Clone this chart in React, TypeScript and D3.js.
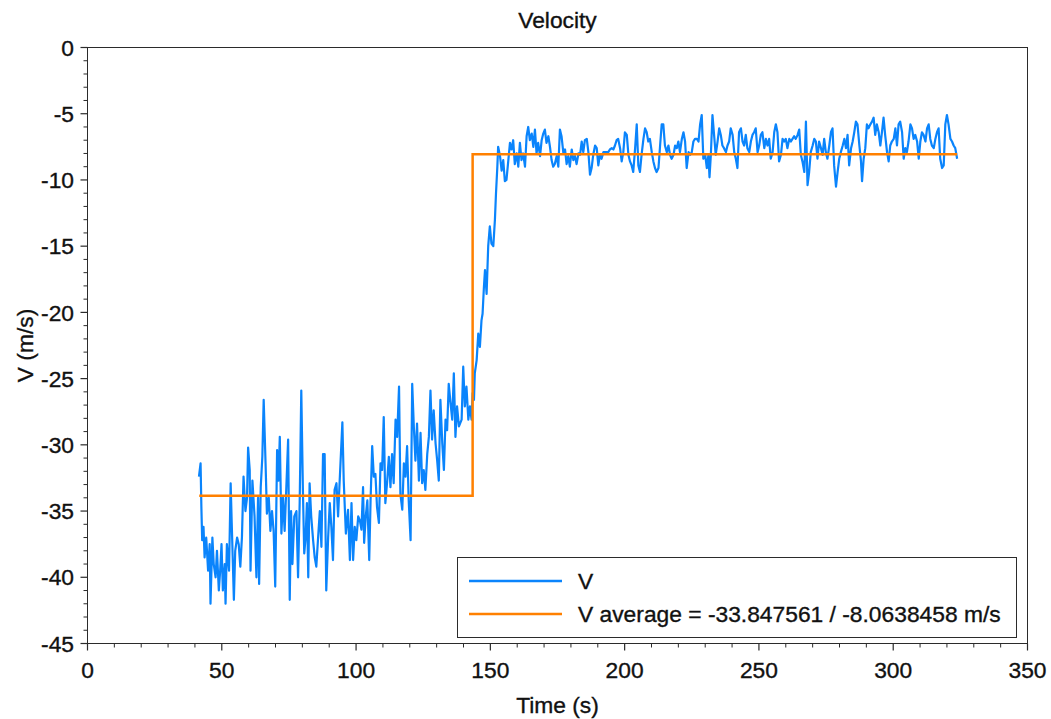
import React from "react";
import * as d3 from "d3";

// ---------- data (time s, velocity m/s) ----------
const slowPhase: [number, number][] = [
  [41.5, -32.4], [42.1, -31.4], [42.4, -34.7], [42.7, -37.2], [43.2, -36.2], [43.6, -38.5], [44.2, -37.0], [44.9, -39.5],
  [45.5, -37.5], [45.8, -42.0], [46.5, -37.0], [47.0, -39.0], [47.7, -40.0], [48.2, -38.0], [48.9, -41.0], [49.4, -39.5],
  [49.9, -37.5], [50.4, -41.0], [51.1, -39.0], [51.4, -42.0], [51.9, -37.5], [52.7, -39.5], [53.3, -32.9], [53.7, -35.9],
  [54.2, -39.5], [54.5, -41.7], [55.0, -38.0], [55.7, -37.0], [56.3, -37.5], [56.9, -39.2], [57.5, -37.0], [58.1, -32.4],
  [58.8, -35.0], [59.4, -34.0], [59.8, -30.2], [60.4, -31.9], [60.7, -39.5], [61.4, -32.7], [62.2, -35.4], [62.9, -40.0],
  [63.5, -34.0], [63.9, -40.5], [64.5, -33.2], [65.1, -30.9], [65.6, -26.6], [66.3, -31.4], [66.8, -35.2], [67.5, -34.0],
  [68.1, -36.5], [68.7, -35.0], [69.3, -36.5], [69.9, -40.7], [70.6, -30.4], [71.1, -32.7], [71.6, -29.4], [72.2, -36.7],
  [72.8, -34.0], [73.4, -36.5], [74.0, -33.4], [74.7, -29.6], [75.3, -41.7], [75.8, -35.0], [76.3, -39.0], [77.0, -35.4],
  [77.8, -35.0], [78.4, -40.0], [79.0, -34.4], [79.6, -25.9], [80.2, -33.4], [80.7, -38.2], [81.2, -37.0], [81.7, -34.4],
  [82.2, -40.0], [82.7, -32.9], [83.3, -35.4], [84.0, -37.2], [84.6, -38.5], [85.2, -39.2], [85.8, -37.2], [86.5, -35.0],
  [87.1, -37.7], [87.7, -30.7], [88.3, -30.7], [88.9, -41.0], [89.6, -37.0], [90.2, -34.4], [90.8, -36.2], [91.4, -38.7],
  [92.0, -33.4], [92.7, -32.9], [93.3, -35.4], [93.9, -32.7],
];

const risingPhase: [number, number][] = [
  [94.9, -28.3], [95.4, -32.7], [96.2, -36.7], [97.0, -34.9], [97.7, -38.7], [98.3, -34.4], [98.9, -38.7], [99.5, -36.2],
  [100.1, -37.2], [100.8, -35.4], [101.4, -35.7], [102.0, -36.4], [102.6, -33.2], [103.0, -37.4], [103.6, -35.4], [104.2, -34.2],
  [104.9, -38.7], [105.4, -34.2], [106.0, -30.1], [106.6, -32.4], [107.2, -32.2], [107.8, -34.7], [108.5, -35.9], [109.1, -31.4],
  [109.7, -31.9], [110.3, -27.9], [110.9, -34.4], [111.6, -32.7], [112.2, -30.9], [112.8, -33.2], [113.4, -30.7], [114.0, -32.9],
  [114.7, -28.1], [115.3, -29.4], [116.0, -25.6], [116.5, -33.7], [117.2, -34.9], [117.8, -31.4], [118.4, -32.4], [119.0, -30.1],
  [119.6, -34.2], [120.3, -37.2], [120.9, -25.4], [121.5, -28.6], [122.1, -31.2], [122.7, -28.4], [123.4, -32.7], [124.0, -29.1],
  [124.6, -32.9], [125.2, -31.9], [125.8, -33.4], [126.5, -30.7], [127.1, -29.4], [127.7, -25.9], [128.3, -29.6], [128.9, -27.4],
  [129.6, -29.9], [130.2, -31.2], [130.8, -32.7], [131.4, -26.6], [132.1, -29.9], [132.7, -31.9], [133.3, -28.1], [133.9, -28.9],
  [134.5, -25.4], [135.2, -26.9], [135.8, -28.1], [136.4, -24.6], [137.0, -29.4], [137.6, -27.1], [138.3, -28.6],
];

const jumpPhase: [number, number][] = [
  [139.3, -28.1], [139.9, -24.1], [140.5, -27.1], [141.1, -25.6], [141.8, -28.1], [142.4, -27.1], [143.0, -28.1], [143.4, -26.1],
  [143.9, -26.6], [144.2, -24.6], [144.9, -23.6], [145.5, -21.6], [146.1, -22.6], [146.7, -20.6], [147.1, -20.1], [147.6, -18.1],
  [148.0, -16.8], [148.6, -18.6], [149.2, -15.0], [149.8, -13.5], [150.4, -14.8], [151.1, -15.0], [151.7, -13.0], [152.1, -11.0],
  [152.6, -9.0], [152.9, -7.5], [153.6, -8.2], [154.2, -9.3], [154.8, -8.5], [155.4, -10.1], [156.0, -10.0], [156.7, -8.5],
  [157.3, -7.2], [157.9, -7.7], [158.5, -7.0], [159.1, -8.8], [159.8, -8.0], [160.4, -9.0], [161.0, -7.2], [161.6, -8.5],
  [162.2, -8.0], [162.9, -9.0], [163.5, -6.7], [164.1, -6.0], [164.7, -7.0], [165.4, -6.5], [166.0, -7.5], [166.6, -6.2],
  [167.2, -8.0], [167.8, -7.2], [168.5, -8.2], [169.1, -7.0], [169.7, -6.5], [170.3, -6.2], [170.9, -7.2], [171.6, -6.7],
  [172.2, -7.5], [172.8, -8.5], [173.4, -9.0], [174.0, -8.8], [174.7, -8.2], [175.3, -9.0], [175.9, -6.2], [176.5, -6.7],
  [177.2, -8.0], [177.8, -7.7], [178.4, -8.8], [179.0, -8.2], [179.6, -9.0], [180.3, -7.7], [180.9, -8.5], [181.5, -8.2],
  [182.1, -8.8], [182.8, -8.0],
];

const plateauA: [number, number][] = [
  [183.4, -8.1], [184.0, -7.1], [184.6, -7.9], [185.2, -7.0], [185.9, -6.9], [186.5, -7.9], [187.1, -9.6], [187.7, -9.1],
  [188.3, -8.1], [189.0, -7.4], [189.6, -7.6], [190.2, -8.9], [190.8, -8.1], [191.4, -8.4], [192.1, -7.9], [192.7, -7.9],
  [193.3, -7.9], [193.9, -7.9], [194.5, -7.7], [195.2, -7.6], [195.8, -7.7], [196.4, -7.4], [197.0, -7.0], [197.6, -6.9],
  [198.3, -7.6], [198.9, -8.6], [199.5, -7.9], [200.1, -6.4], [200.8, -6.6], [201.4, -8.1], [202.0, -8.6], [202.6, -8.9],
  [203.2, -9.4], [203.9, -7.6], [204.5, -5.8], [205.1, -8.9], [205.7, -9.4], [206.3, -8.1], [207.0, -6.9], [207.6, -6.1],
  [208.2, -6.4], [208.8, -7.1], [209.4, -6.9], [210.1, -7.9], [210.7, -8.6], [211.3, -9.1], [211.9, -9.4], [212.6, -9.1],
  [213.2, -7.4], [213.8, -5.8], [214.4, -5.8], [215.0, -7.4], [215.7, -7.9], [216.3, -7.4], [216.9, -8.1],
];

const plateauB: [number, number][] = [
  [217.5, -8.4], [218.2, -8.1], [218.8, -7.4], [219.4, -7.6], [220.0, -7.1], [220.6, -7.9], [221.3, -6.9], [221.9, -6.4],
  [222.5, -7.1], [223.1, -9.1], [223.8, -7.9], [224.4, -8.1], [225.0, -7.9], [225.6, -7.1], [226.2, -6.9], [226.9, -6.9],
  [227.5, -7.1], [228.1, -5.8], [228.7, -5.1], [229.3, -8.4], [230.0, -8.1], [230.6, -9.1], [231.2, -8.1], [231.6, -9.8],
  [232.1, -8.1], [232.7, -5.1], [233.3, -6.6], [233.9, -8.1], [234.6, -7.1], [235.2, -6.1], [235.8, -6.6], [236.4, -7.4],
  [237.0, -7.6], [237.7, -7.9], [238.3, -7.4], [238.9, -7.1], [239.5, -6.1], [240.2, -6.6], [240.8, -7.9], [241.4, -8.4],
  [242.0, -9.1], [242.6, -6.4], [243.3, -6.1], [243.9, -7.1], [244.5, -7.4], [245.1, -6.6], [245.7, -7.6], [246.4, -7.9],
  [247.0, -7.1], [247.6, -6.6], [248.2, -6.4], [248.8, -6.1], [249.5, -7.9], [250.1, -7.4], [250.7, -6.6], [251.3, -6.4],
  [252.0, -7.6], [252.6, -6.9], [253.2, -7.4], [253.8, -6.9], [254.4, -8.4], [255.1, -7.9], [255.7, -6.4], [256.3, -5.8],
  [256.9, -6.4], [257.5, -8.6], [258.2, -8.1], [258.8, -6.9], [259.4, -7.1], [260.0, -6.9], [260.6, -7.6], [261.3, -6.9],
  [261.9, -7.1], [262.5, -6.9], [263.1, -6.7], [263.7, -6.9], [264.4, -6.6], [265.0, -6.2], [265.6, -8.1], [266.2, -8.6],
  [266.9, -9.4], [267.5, -5.6], [268.1, -10.4], [268.7, -9.4], [269.3, -7.9], [270.0, -7.4], [270.6, -6.9], [271.2, -7.1],
  [271.8, -8.4], [272.4, -7.1], [273.1, -7.6], [273.7, -8.1], [274.3, -6.9], [274.9, -7.9], [275.5, -8.4], [276.2, -7.4],
  [276.8, -6.4], [277.4, -6.1], [278.0, -8.9], [278.7, -10.5], [279.3, -9.4], [279.9, -8.4],
];

const plateauC: [number, number][] = [
  [280.5, -7.9], [281.2, -7.4], [281.8, -6.9], [282.4, -7.6], [283.0, -6.6], [283.6, -8.9], [284.3, -7.6], [284.9, -7.1],
  [285.5, -6.4], [286.1, -5.6], [286.7, -5.8], [287.4, -7.4], [288.0, -8.6], [288.4, -10.1], [289.0, -8.4], [289.6, -7.6],
  [290.2, -5.8], [290.8, -6.1], [291.5, -5.8], [292.1, -5.6], [292.7, -5.3], [293.3, -6.6], [293.9, -5.8], [294.6, -6.4],
  [295.2, -7.4], [295.8, -6.4], [296.4, -5.3], [297.0, -6.6], [297.7, -7.9], [298.3, -8.6], [298.9, -7.4], [299.5, -7.1],
  [300.2, -6.9], [300.8, -6.1], [301.4, -7.4], [302.0, -5.8], [302.6, -5.6], [303.3, -6.4], [303.9, -8.4], [304.5, -7.6],
  [305.1, -7.9], [305.7, -7.1], [306.4, -5.8], [307.0, -6.1], [307.6, -6.9], [308.2, -6.6], [308.9, -7.1], [309.5, -8.4],
  [310.1, -7.1], [310.7, -6.4], [311.3, -6.6], [312.0, -7.1], [312.6, -6.1], [313.2, -5.8], [313.8, -6.9], [314.4, -7.4],
  [315.1, -7.6], [315.7, -6.9], [316.3, -6.4], [316.9, -6.1], [317.5, -8.4], [318.2, -9.1], [318.8, -8.9], [319.4, -5.8],
  [320.0, -5.1], [320.6, -5.8], [321.3, -6.9], [321.9, -7.1], [322.5, -7.4], [323.1, -7.6], [323.8, -8.4],
];

const avgTimes = [41.6, 143.4, 143.4, 323.8];
const avgValues = [-33.847561, -33.847561, -8.0638458, -8.0638458];

const xMajorTicks = [0, 50, 100, 150, 200, 250, 300, 350];
const yMajorTicks = [0, -5, -10, -15, -20, -25, -30, -35, -40, -45];
const xMinorStep = 10;
const yMinorStep = 1;

const seriesLabel = "V";
const avgLabel = "V average = -33.847561 / -8.0638458 m/s";
const titleText = "Velocity";
const xTitle = "Time (s)";
const yTitle = "V (m/s)";

// ---------- layout ----------
const W = 1051;
const H = 719;
const L = 87.5;
const R = 1027.5;
const T = 47.5;
const B = 643.5;
const FONT = "'Liberation Sans', Arial, Helvetica, sans-serif";
const BLUE = "#0a84fc";
const ORANGE = "#ff8000";
const AXIS = "#2b2b2b";
const TEXT = "#111";

export default function App() {
  const x = d3.scaleLinear().domain([0, 350]).range([L, R]);
  const y = d3.scaleLinear().domain([-45, 0]).range([B, T]);

  const vData = [...slowPhase, ...risingPhase, ...jumpPhase, ...plateauA, ...plateauB, ...plateauC];
  const line = d3
    .line<[number, number]>()
    .x((d) => x(d[0]))
    .y((d) => y(d[1]));
  const avgData: [number, number][] = avgTimes.map((t, i) => [t, avgValues[i]]);

  const xMinor = d3.range(0, 350 + 0.001, xMinorStep).filter((v) => v % 50 !== 0);
  const yMinor = d3.range(-45, 0.001, yMinorStep).filter((v) => Math.abs(v) % 5 !== 0);

  const fs = 22.8;
  const textStyle = { stroke: TEXT, strokeWidth: 0.35 } as const;

  return (
    <svg
      width={W}
      height={H}
      style={{ position: "absolute", left: 0, top: 0, display: "block", background: "#fff" }}
      fontFamily={FONT}
    >
      <rect x={0} y={0} width={W} height={H} fill="#fff" />
      {/* series */}
      <path d={line(vData) || ""} fill="none" stroke={BLUE} strokeWidth={2.2} strokeLinejoin="round" />
      <path d={line(avgData) || ""} fill="none" stroke={ORANGE} strokeWidth={2.5} />

      {/* frame */}
      <rect x={L} y={T} width={R - L} height={B - T} fill="none" stroke={AXIS} strokeWidth={1} />

      {/* x ticks */}
      {xMajorTicks.map((v) => (
        <g key={"xM" + v}>
          <line x1={x(v)} x2={x(v)} y1={B} y2={B + 7} stroke={AXIS} strokeWidth={1.2} />
          <text x={x(v)} y={B + 34.5} textAnchor="middle" fontSize={fs} fill={TEXT} style={textStyle}>
            {v}
          </text>
        </g>
      ))}
      {xMinor.map((v) => (
        <line key={"xm" + v} x1={x(v)} x2={x(v)} y1={B} y2={B + 4} stroke={AXIS} strokeWidth={1} />
      ))}

      {/* y ticks */}
      {yMajorTicks.map((v) => (
        <g key={"yM" + v}>
          <line x1={L - 7} x2={L} y1={y(v)} y2={y(v)} stroke={AXIS} strokeWidth={1.2} />
          <text x={74} y={y(v)} dy="0.36em" textAnchor="end" fontSize={fs} fill={TEXT} style={textStyle}>
            {v}
          </text>
        </g>
      ))}
      {yMinor.map((v) => (
        <line key={"ym" + v} x1={L - 4} x2={L} y1={y(v)} y2={y(v)} stroke={AXIS} strokeWidth={1} />
      ))}

      {/* titles */}
      <text x={(L + R) / 2} y={28} textAnchor="middle" fontSize={fs} fill={TEXT} style={textStyle}>
        {titleText}
      </text>
      <text x={(L + R) / 2} y={713} textAnchor="middle" fontSize={fs} fill={TEXT} style={textStyle}>
        {xTitle}
      </text>
      <text
        transform={`translate(33, ${(T + B) / 2}) rotate(-90)`}
        textAnchor="middle"
        fontSize={fs}
        fill={TEXT}
        style={textStyle}
      >
        {yTitle}
      </text>

      {/* legend */}
      <rect x={457.5} y={557.5} width={559} height={80} fill="#fff" stroke={AXIS} strokeWidth={1} />
      <line x1={469} x2={562} y1={581} y2={581} stroke={BLUE} strokeWidth={2.5} />
      <text x={578} y={588.5} fontSize={fs} fill={TEXT} style={textStyle}>
        {seriesLabel}
      </text>
      <line x1={469} x2={562} y1={614} y2={614} stroke={ORANGE} strokeWidth={2.5} />
      <text x={578} y={622} fontSize={fs} fill={TEXT} style={textStyle}>
        {avgLabel}
      </text>
    </svg>
  );
}
